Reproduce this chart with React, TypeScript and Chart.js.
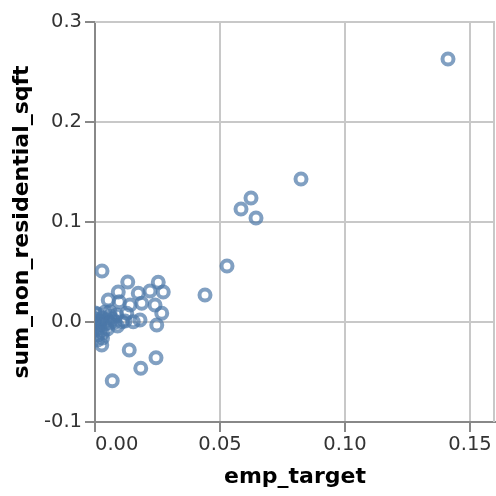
import React, { useEffect, useRef } from "react";
import { Chart, registerables } from "chart.js";

Chart.register(...registerables);

// emp_target (x) and sum_non_residential_sqft (y)
const empTarget: number[] = [
  0.1412, 0.0824, 0.0624, 0.0584, 0.0644, 0.0528, 0.044, 0.0028,
  0.0131, 0.0253, 0.0273, 0.022, 0.0173, 0.0093, 0.0053, 0.0097,
  0.014, 0.0187, 0.024, 0.0267, 0.0247, 0.018, 0.0153, 0.0107,
  0.0087, 0.0127, 0.006, 0.0027, 0.0137, 0.0244, 0.0183, 0.0069,
  -0.003, -0.002, -0.003, -0.002, -0.001, 0.0, 0.0, 0.001,
  0.001, 0.001, 0.002, 0.002, 0.002, 0.003, 0.003, 0.004,
  0.004, 0.005, 0.005, 0.006, 0.006, 0.007, -0.001, 0.0,
  -0.002, 0.003, 0.008, 0.009, 0.012, -0.004, -0.003, 0.001,
];
const sumNonResidentialSqft: number[] = [
  0.263, 0.143, 0.124, 0.113, 0.104, 0.056, 0.027, 0.051,
  0.04, 0.0397, 0.03, 0.031, 0.0287, 0.03, 0.022, 0.0203,
  0.017, 0.0187, 0.017, 0.0087, -0.003, 0.002, 0.0003, 0.0003,
  0.007, 0.0087, 0.0103, -0.023, -0.028, -0.0357, -0.0463, -0.0587,
  0.002, -0.004, -0.009, -0.012, 0.005, -0.001, 0.003, -0.006,
  -0.013, 0.008, 0.001, -0.003, -0.009, 0.004, -0.016, 0.01,
  -0.002, 0.002, -0.007, 0.006, -0.001, 0.003, -0.007, 0.009,
  0.0, -0.011, 0.0, -0.004, 0.001, -0.006, 0.006, -0.018,
];

const xTicks: number[] = [0, 0.05, 0.1, 0.15];
const xTickLabels: string[] = ["0.00", "0.05", "0.10", "0.15"];
const yTicks: number[] = [-0.1, 0, 0.1, 0.2, 0.3];
const xTitle = "emp_target";
const yTitle = "sum_non_residential_sqft";

const FONT = '"DejaVu Sans", "Liberation Sans", sans-serif';

export default function App() {
  const ref = useRef<HTMLCanvasElement | null>(null);

  useEffect(() => {
    if (!ref.current) return;
    const points = empTarget.map((x, i) => ({ x, y: sumNonResidentialSqft[i] }));

    const frame = {
      id: "frame",
      beforeDatasetsDraw(chart: any) {
        const { ctx, chartArea } = chart;
        ctx.save();
        ctx.strokeStyle = "#c8c8c8";
        ctx.lineWidth = 2;
        ctx.beginPath();
        ctx.moveTo(chartArea.left, chartArea.top);
        ctx.lineTo(chartArea.right - 1, chartArea.top);
        ctx.lineTo(chartArea.right - 1, chartArea.bottom);
        ctx.stroke();
        ctx.restore();
      },
      afterDraw(chart: any) {
        const { ctx, chartArea } = chart;
        const xs = chart.scales.x;
        ctx.save();
        ctx.font = `19.5px ${FONT}`;
        ctx.fillStyle = "#333";
        ctx.textBaseline = "top";
        xTicks.forEach((v, i) => {
          const px = xs.getPixelForValue(v);
          ctx.textAlign = i === 0 ? "left" : "center";
          ctx.fillText(xTickLabels[i], px, chartArea.bottom + 13);
        });
        ctx.restore();
      },
    };

    const chart = new Chart(ref.current, {
      type: "scatter",
      data: {
        datasets: [
          {
            data: points,
            pointRadius: 5.5,
            pointHoverRadius: 5.5,
            pointBorderWidth: 4,
            pointBackgroundColor: "rgba(0,0,0,0)",
            pointBorderColor: "rgba(76,120,168,0.7)",
          },
        ],
      },
      options: {
        animation: false,
        responsive: false,
        maintainAspectRatio: false,
        events: [],
        layout: { autoPadding: false, padding: { top: 22, right: 1, left: 0, bottom: 0 } },
        plugins: {
          legend: { display: false },
          tooltip: { enabled: false },
        },
        scales: {
          x: {
            type: "linear",
            min: 0,
            max: 0.16,
            afterBuildTicks: (s: any) => {
              s.ticks = xTicks.map((v) => ({ value: v }));
            },
            afterFit: (s: any) => {
              s.height = 74;
            },
            ticks: { display: false },
            grid: {
              color: "#c8c8c8",
              lineWidth: 2,
              tickLength: 10,
              tickColor: "#888",
              tickWidth: 2,
            },
            border: { color: "#888", width: 2 },
            title: {
              display: true,
              text: xTitle,
              color: "#000",
              font: { family: FONT, size: 22, weight: "bold" },
              padding: { top: 6, bottom: 6 },
            },
          },
          y: {
            type: "linear",
            min: -0.1,
            max: 0.3,
            afterBuildTicks: (s: any) => {
              s.ticks = yTicks.map((v) => ({ value: v }));
            },
            afterFit: (s: any) => {
              s.width = 95;
            },
            ticks: {
              color: "#333",
              padding: 3,
              font: { family: FONT, size: 19.5 },
              callback: (v: any) => Number(v).toFixed(1),
            },
            grid: {
              color: "#c8c8c8",
              lineWidth: 2,
              tickLength: 10,
              tickColor: "#888",
              tickWidth: 2,
            },
            border: { color: "#888", width: 2 },
            title: {
              display: true,
              text: yTitle,
              color: "#000",
              font: { family: FONT, size: 22, weight: "bold" },
              padding: { top: 9, bottom: 9 },
            },
          },
        },
      },
      plugins: [frame],
    });
    return () => chart.destroy();
  }, []);

  return (
    <div style={{ position: "absolute", left: 0, top: 0, width: 496, height: 496, background: "#fff" }}>
      <canvas ref={ref} width={496} height={496} style={{ width: 496, height: 496, display: "block" }} />
    </div>
  );
}
